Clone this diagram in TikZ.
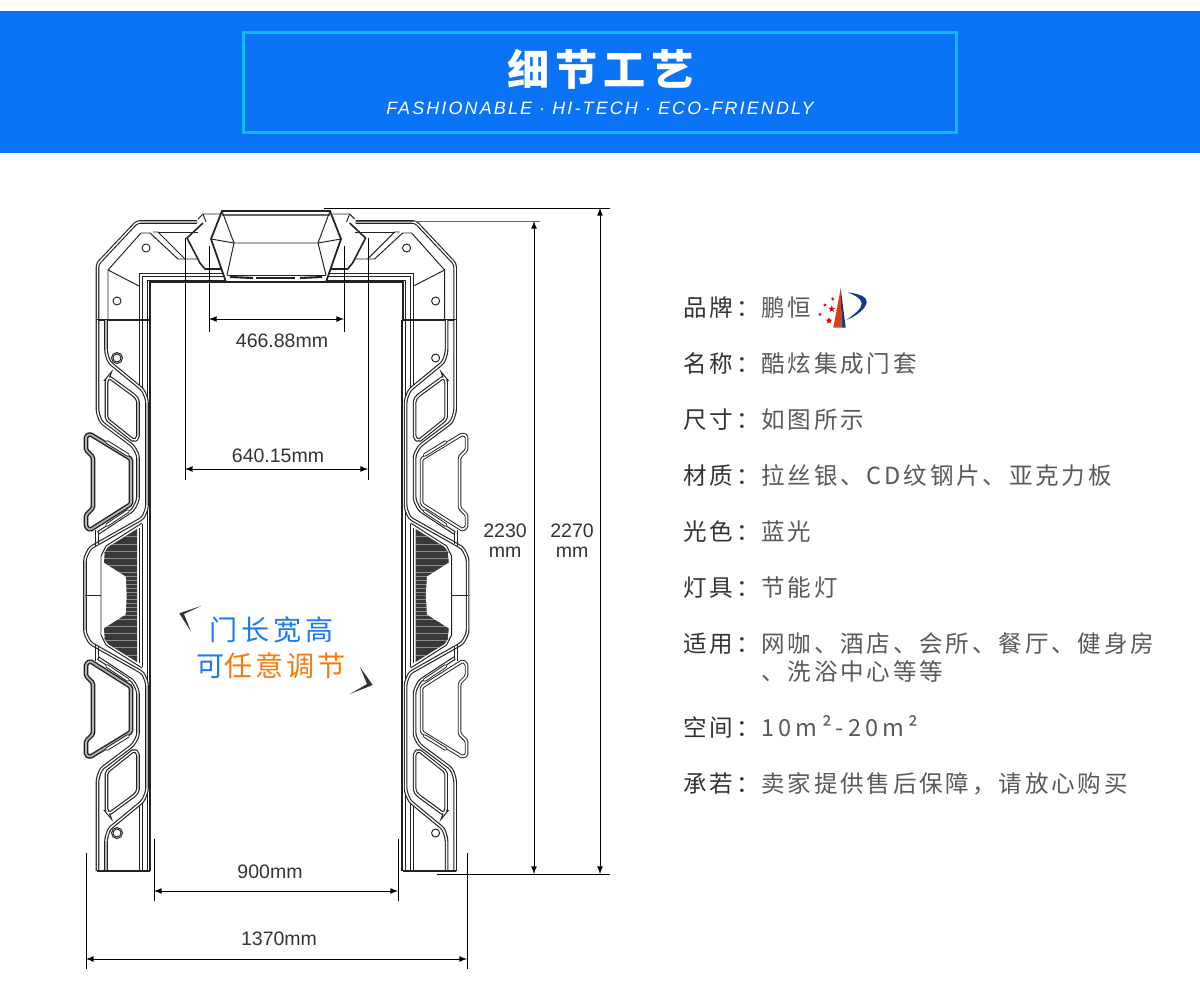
\documentclass[tikz,border=0pt]{standalone}
\usepackage{fontspec}
\setmainfont{Liberation Sans}
\newfontfamily\cjk{Noto Sans CJK SC}
\usetikzlibrary{positioning,shapes.geometric}
\definecolor{bandblue}{HTML}{0B74F6}
\definecolor{bandcyan}{HTML}{12BBF6}
\definecolor{calloutblue}{HTML}{1A7BF2}
\definecolor{calloutorange}{HTML}{F57B0A}
\definecolor{logoblue}{HTML}{123A8C}
\definecolor{logored}{HTML}{D8401A}
\definecolor{doorink}{HTML}{222222}
\tikzset{
  doorline/.style={draw=doorink,line width=.55pt},
  doorbold/.style={draw=doorink,line width=1.2pt},
  doorwall/.style={draw=doorink,line width=.65pt,double=white,double distance=.8pt,rounded corners=.06cm},
  lugleft/.style={draw=doorink,line width=.8pt,double=gray!60,double distance=1pt,rounded corners=.03cm,fill=white},
  lugright/.style={draw=doorink,line width=.55pt,double=white,double distance=1pt,rounded corners=.03cm,fill=white},
  dimline/.style={draw=black,line width=.5pt},
  dimtext/.style={text=black!80,font=\fontsize{11.1pt}{11.4pt}\selectfont,inner sep=0pt},
  keytext/.style={anchor=west,inner sep=0pt,text height=12pt,text depth=2pt,text=black!80,font=\infofont},
  valtext/.style={keytext,text=black!65},
  logostar/.style={star,star points=5,star point ratio=2.3,fill=red!85!black,inner sep=0pt}
}
\newcommand{\infofont}{\cjk\fontsize{13.4pt}{16pt}\selectfont\addfontfeature{LetterSpace=12}}
\newcommand{\callfont}{\cjk\fontsize{16pt}{19pt}\selectfont\addfontfeature{LetterSpace=14}}
\newcommand{\callfontb}{\cjk\fontsize{16pt}{19pt}\selectfont\addfontfeature{LetterSpace=11}}
\newcommand{\fullcolon}{\char"FF1A\relax}
\newcommand{\fullcomma}{\char"FF0C\relax}
\newcommand{\doorcap}{
  \draw[doorwall] (97.5,320) -- (97.5,264) -- (137,222) -- (197,222);
  \draw[doorline] (108,320) -- (108,270) -- (141,233) -- (150,233) -- (178,259) -- (198,259);
  \draw[doorline] (153,232) -- (158,232) -- (185,259);
  \draw[doorline] (158,232) -- (198,232);
  \draw[doorline] (108,270) -- (139,286);
  \draw[doorline] (139,320) -- (139,273) -- (224,273);
  \draw[doorline] (142.5,320) -- (142.5,276) -- (224,276);
  \draw[doorline] (147.5,320) -- (147.5,280) -- (226,280);
  \draw[doorbold] (150,320) -- (150,282) -- (226,282);
  \draw[doorbold] (97,320) -- (150,320);
  \draw[doorline] (198,219) -- (203,214) -- (220,214);
  \draw[doorline] (203,214) -- (206,222);
  \draw[doorbold,line width=.9pt] (203,223) -- (187,238) -- (200,263) -- (205,269) -- (224,269);
  \draw[doorline] (146,248) circle (4);
  \draw[doorline] (117,301) circle (4);
}
\newcommand{\postpart}[1]{
  \draw[doorline] (139,320) -- (139,388);
  \draw[doorline] (142.5,320) -- (142.5,390);
  \draw[doorline] (139,528) -- (139,595.5);
  \draw[doorline] (142.5,524) -- (142.5,595.5);
  \draw[doorline] (147.5,320) -- (147.5,595.5);
  \draw[doorbold] (150.3,320) -- (150.3,595.5);
  \begin{scope}
    \clip (137,529) -- (108,547) -- (104,553) -- (103,563) -- (125,577) -- (126,595.5) -- (137,595.5) -- cycle;
    \fill[black!78] (100,525) rectangle (140,596);
    \foreach \yy in {536,544,551,558,565,572,576,580,584,588,592}
      \draw[black!45,line width=.45pt] (100,\yy) -- (140,\yy);
  \end{scope}
  \draw[white,line width=.8pt] (104,553) -- (103,563) -- (125,577) -- (126,595.5);
  \draw[doorwall] (97.5,320) -- (97.5,412) -- (101,422) -- (133,446) -- (138,455) -- (138,500) -- (133,510) -- (98,533);
  \draw[doorwall] (106,320) -- (106,352) -- (109,362) -- (143,390) -- (147,400) -- (147,508) -- (143,518) -- (90,548) -- (85,558) -- (85,595.5);
  \draw[doorline] (142,523) -- (106,546) -- (101,556) -- (101,595.5);
  \draw[doorline] (85,595.5) -- (101,595.5);
  \draw[doorline] (95,530) -- (95,546);
  \draw[doorline] (98,532) -- (98,544);
  \draw[doorwall,rounded corners=.04cm] (106.5,380) -- (109,377) -- (135,396) -- (138,400) -- (138,438) -- (134,441) -- (106.5,419) -- cycle;
  \draw[#1] (86,436) -- (90,434) -- (131,459) -- (131,504) -- (90,530) -- (86,527) -- (86,515) -- (93,508) -- (93,457) -- (86,450) -- cycle;
  \draw[doorline,double=white,double distance=1pt,line cap=round] (107,442) -- (128,455);
  \draw[doorline,double=white,double distance=1pt,line cap=round] (107,525) -- (128,511);
  \draw[doorline] (117,358) circle (4);
}
\begin{document}
\begin{tikzpicture}[x=0.02cm,y=-0.02cm]
  \useasboundingbox (0,0) rectangle (1200,993);
  \fill[bandblue] (0,11) rectangle (1200,153);
  \draw[bandcyan,line width=1.7pt] (243.5,32.5) rectangle (956.5,132.5);
  \node[text=white,inner sep=0pt,font=\cjk\fontsize{24pt}{28pt}\selectfont\bfseries\addfontfeature{LetterSpace=14}] (title) at (601,69) {细节工艺};
  \node[text=white,inner sep=0pt,font=\fontsize{10.2pt}{12pt}\selectfont\itshape\addfontfeature{LetterSpace=12}] (subtitle) at (600,108) {FASHIONABLE · HI-TECH · ECO-FRIENDLY};
  % door, left side
  \doorcap
  \postpart{lugleft}
  \begin{scope}[cm={1,0,0,-1,(0,1191)}]
    \postpart{lugleft}
    \draw[doorbold] (97,320) -- (150,320);
  \end{scope}
  % door, right side
  \begin{scope}[cm={-1,0,0,1,(552.6,0)}]
    \doorcap
    \postpart{lugright}
    \begin{scope}[cm={1,0,0,-1,(0,1191)}]
      \postpart{lugright}
      \draw[doorbold] (97,320) -- (150,320);
    \end{scope}
  \end{scope}
  \draw[doorline] (117,358) circle (5.5);
  \draw[doorline] (117,833) circle (5.5);
  % lamp box
  \filldraw[fill=white,draw=doorink,line width=1pt] (222,211) -- (330,211) -- (341,239) -- (326,282) -- (226,282) -- (211,239) -- cycle;
  \draw[black!60,line width=.9pt] (222,215) -- (330,215);
  \draw[doorline] (211,239) -- (234,243) -- (318,243) -- (341,239);
  \draw[doorline] (222,211) -- (234,243) -- (227,275);
  \draw[doorline] (330,211) -- (318,243) -- (326,275);
  \draw[doorline] (227,275) -- (326,275);
  \draw[doorbold] (230,277) -- (253,278);
  \draw[doorbold] (256,278) -- (295,278);
  \draw[doorbold] (300,278) -- (322,277);
  % dimensions
  \coordinate (narrowa) at (209,319);
  \coordinate (narrowb) at (344,319);
  \coordinate (narrowc) at (209,246);
  \coordinate (narrowd) at (209,332);
  \coordinate (narrowe) at (344,246);
  \coordinate (narrowf) at (344,332);
  \draw[dimline] (narrowc) -- (narrowd);
  \draw[dimline] (narrowe) -- (narrowf);
  \draw[dimline,<->,>=latex] (narrowa) -- (narrowb);
  \node[dimtext] (narrowtext) at (282,341) {466.88mm};
  \coordinate (widea) at (185,469);
  \coordinate (wideb) at (368,469);
  \coordinate (widec) at (185,238);
  \coordinate (wided) at (185,480);
  \coordinate (widee) at (368,238);
  \coordinate (widef) at (368,480);
  \draw[dimline] (widec) -- (wided);
  \draw[dimline] (widee) -- (widef);
  \draw[dimline,<->,>=latex] (widea) -- (wideb);
  \node[dimtext] (widetext) at (278,456) {640.15mm};
  \coordinate (doora) at (154,891);
  \coordinate (doorb) at (398,891);
  \coordinate (doorc) at (154,839);
  \coordinate (doord) at (154,901);
  \coordinate (doore) at (398,839);
  \coordinate (doorf) at (398,901);
  \draw[dimline] (doorc) -- (doord);
  \draw[dimline] (doore) -- (doorf);
  \draw[dimline,<->,>=latex] (doora) -- (doorb);
  \node[dimtext] (doortext) at (270,872) {900mm};
  \coordinate (framea) at (86,959);
  \coordinate (frameb) at (467,959);
  \coordinate (framec) at (86,853);
  \coordinate (framed) at (86,969);
  \coordinate (framee) at (467,853);
  \coordinate (framef) at (467,969);
  \draw[dimline] (framec) -- (framed);
  \draw[dimline] (framee) -- (framef);
  \draw[dimline,<->,>=latex] (framea) -- (frameb);
  \node[dimtext] (frametext) at (279,939) {1370mm};
  \coordinate (innertop) at (534,221);
  \coordinate (innerbot) at (534,874);
  \coordinate (innerstart) at (356,221);
  \coordinate (outertop) at (600,208);
  \coordinate (outerbot) at (600,874);
  \coordinate (outerstart) at (324,208);
  \coordinate (floorstart) at (437,874);
  \coordinate (floorend) at (610,874);
  \coordinate (outerend) at (610,208);
  \coordinate (innerend) at (540,221);
  \draw[dimline] (outerstart) -- (outerend);
  \draw[dimline,black!60] (innerstart) -- (innerend);
  \draw[dimline] (floorstart) -- (floorend);
  \draw[dimline,<->,>=latex] (innertop) -- (innerbot);
  \draw[dimline,<->,>=latex] (outertop) -- (outerbot);
  \node[dimtext,align=center] (innertext) at (505,541) {2230\\mm};
  \node[dimtext,align=center] (outertext) at (572,541) {2270\\mm};
  % callout
  \node[text=calloutblue,inner sep=0pt,font=\callfont] (calla) at (272,630) {门长宽高};
  \node[inner sep=0pt,font=\callfontb] (callb) at (271,666) {\textcolor{calloutblue}{可}\textcolor{calloutorange}{任意调节}};
  \fill[black!80] (201.7,605.7) -- (179.3,613.3) -- (191,631.7) -- (184,614) -- cycle;
  \fill[black!80] (360,667) -- (372.7,685) -- (350,694) -- (367,684) -- cycle;
  % list
  \node[keytext] (brandkey) at (683,308) {品牌\fullcolon};
  \node[valtext] (brandval) at (761,308) {鹏恒};
  \node[keytext] (namekey) [below=1.12cm of brandkey.west,anchor=west] {名称\fullcolon};
  \node[valtext] (nameval) [below=1.12cm of brandval.west,anchor=west] {酷炫集成门套};
  \node[keytext] (sizekey) [below=1.12cm of namekey.west,anchor=west] {尺寸\fullcolon};
  \node[valtext] (sizeval) [below=1.12cm of nameval.west,anchor=west] {如图所示};
  \node[keytext] (stuffkey) [below=1.12cm of sizekey.west,anchor=west] {材质\fullcolon};
  \node[valtext] (stuffval) [below=1.12cm of sizeval.west,anchor=west] {拉丝银、CD纹钢片、亚克力板};
  \node[keytext] (lightkey) [below=1.12cm of stuffkey.west,anchor=west] {光色\fullcolon};
  \node[valtext] (lightval) [below=1.12cm of stuffval.west,anchor=west] {蓝光};
  \node[keytext] (lampkey) [below=1.12cm of lightkey.west,anchor=west] {灯具\fullcolon};
  \node[valtext] (lampval) [below=1.12cm of lightval.west,anchor=west] {节能灯};
  \node[keytext] (usekey) [below=1.12cm of lampkey.west,anchor=west] {适用\fullcolon};
  \node[valtext] (useval) [below=1.12cm of lampval.west,anchor=west] {网咖、酒店、会所、餐厅、健身房};
  \node[valtext] (usemore) [below=.56cm of useval.west,anchor=west] {、洗浴中心等等};
  \node[keytext] (roomkey) [below=1.68cm of usekey.west,anchor=west] {空间\fullcolon};
  \node[valtext] (roomval) [below=1.12cm of usemore.west,anchor=west] {\addfontfeature{LetterSpace=18}10m²-20m²};
  \node[keytext] (promisekey) [below=1.12cm of roomkey.west,anchor=west] {承若\fullcolon};
  \node[valtext] (promiseval) [below=1.12cm of roomval.west,anchor=west] {卖家提供售后保障\fullcomma 请放心购买};
  % logo
  \fill[logored] (840.7,288.3) -- (833.3,327.7) -- (841.7,327.7) -- cycle;
  \fill[logoblue] (840.7,288.3) -- (845.7,327.7) -- (841.7,327.7) -- cycle;
  \fill[logoblue] (847.7,292.3) .. controls (860,294) and (867,297) .. (866.7,302) .. controls (866,309) and (856,316) .. (846.7,320) .. controls (854,314) and (862,309) .. (861.7,303.3) .. controls (861,298) and (854,295) .. (847.7,292.3) -- cycle;
  \node[logostar,minimum size=.14cm] (stara) at (831.7,309) {};
  \node[logostar,minimum size=.14cm] (starb) at (829,320.7) {};
  \node[logostar,minimum size=.08cm] (starc) at (825,305) {};
  \node[logostar,minimum size=.08cm] (stard) at (832.7,299) {};
  \node[logostar,minimum size=.08cm] (stare) at (820,314.3) {};
\end{tikzpicture}
\end{document}
